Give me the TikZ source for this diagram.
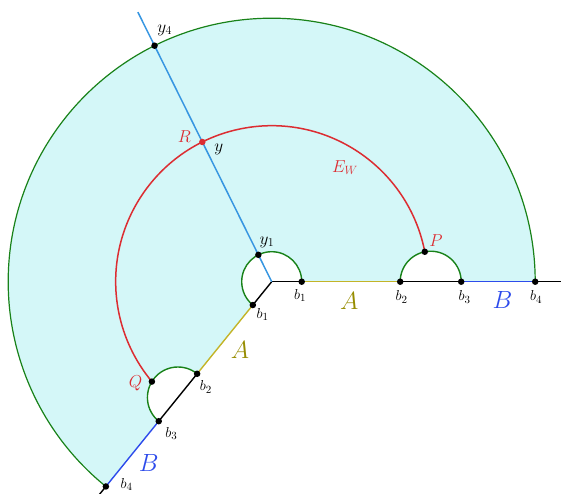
\documentclass[tikz,border=0pt]{standalone}
\usepackage{xcolor}
\definecolor{cyanfill}{RGB}{212,247,248}
\definecolor{grn}{RGB}{25,130,25}
\definecolor{redc}{RGB}{220,45,50}
\definecolor{blueB}{RGB}{45,75,235}
\definecolor{lblue}{RGB}{55,150,225}
\definecolor{yel}{RGB}{195,180,40}
\definecolor{olv}{RGB}{150,140,0}
\begin{document}
\begin{tikzpicture}[x=1pt,y=1pt,line width=1.4pt,
  dot/.style={circle,fill=black,inner sep=0pt,minimum size=6.5pt},
  rdot/.style={circle,fill=redc,inner sep=0pt,minimum size=6.5pt},
  blab/.style={inner sep=0pt,font=\fontsize{15.5}{18}\selectfont},
  mlab/.style={inner sep=0pt,font=\fontsize{18}{21}\selectfont},
  biglab/.style={inner sep=0pt,font=\fontsize{23}{27}\selectfont}]
\useasboundingbox (-271.7,-211.3) rectangle (289.3,281.7);
% points
\coordinate (O) at (0,0);
\coordinate (h1) at (30,0);
\coordinate (h2) at (128.5,0);
\coordinate (h3) at (189.5,0);
\coordinate (h4) at (263.5,0);
\coordinate (hE) at (300,0);
\coordinate (l1) at (231:30);
\coordinate (l2) at (231:118.5);
\coordinate (l3) at (231:179.5);
\coordinate (l4) at (231:263.5);
\coordinate (lE) at (231:300);
\coordinate (y1) at (116.4:30);
\coordinate (yR) at (116.4:156);
\coordinate (y4) at (116.4:263.5);
\coordinate (yE) at (116.4:301);
\coordinate (P) at (11.07:156);
\coordinate (Q) at (219.82:156);
% region
\fill[cyanfill] (h4) arc[start angle=0,end angle=231,radius=263.5pt] -- (l3)
  arc[start angle=231,end angle=51,radius=30.5pt] -- (l1)
  arc[start angle=231,end angle=0,radius=30pt] -- (h2)
  arc[start angle=180,end angle=0,radius=30.5pt] -- cycle;
% rays
\draw[black] (O) -- (h1);
\draw[yel] (h1) -- (h2);
\draw[black] (h2) -- (h3);
\draw[blueB] (h3) -- (h4);
\draw[black] (h4) -- (hE);
\draw[black] (O) -- (l1);
\draw[yel] (l1) -- (l2);
\draw[black] (l2) -- (l3);
\draw[blueB] (l3) -- (l4);
\draw[black] (l4) -- (lE);
% arcs
\draw[grn,line width=1.2pt] (h4) arc[start angle=0,end angle=231,radius=263.5pt];
\draw[grn] (h1) arc[start angle=0,end angle=231,radius=30pt];
\draw[grn] (h2) arc[start angle=180,end angle=0,radius=30.5pt];
\draw[grn] (l2) arc[start angle=51,end angle=231,radius=30.5pt];
\draw[redc,line width=1.5pt] (P) arc[start angle=11.07,end angle=219.82,radius=156pt];
\draw[lblue,line width=1.5pt] (O) -- (yE);
% dots
\node[dot] (dy1) at (y1) {};
\node[dot] (dy4) at (y4) {};
\node[rdot] (dR) at (yR) {};
\node[dot] (dP) at (P) {};
\node[dot] (dQ) at (Q) {};
\node[dot] (dh1) at (h1) {};
\node[dot] (dh2) at (h2) {};
\node[dot] (dh3) at (h3) {};
\node[dot] (dh4) at (h4) {};
\node[dot] (dl1) at (l1) {};
\node[dot] (dl2) at (l2) {};
\node[dot] (dl3) at (l3) {};
\node[dot] (dl4) at (l4) {};
% labels
\node[mlab] (ty4) at (-107,251.7) {$y_4$};
\node[mlab,text=redc] (tR) at (-87.2,145) {$R$};
\node[mlab] (ty) at (-52.9,132.7) {$y$};
\node[mlab,text=redc] (tE) at (73.3,114.2) {$E_W$};
\node[mlab] (ty1) at (-4.7,39.7) {$y_1$};
\node[mlab,text=redc] (tP) at (164.3,40.7) {$P$};
\node[mlab,text=redc] (tQ) at (-136.2,-101.3) {$Q$};
\node[blab] (tb1) at (28.3,-13.6) {$b_1$};
\node[blab] (tb2) at (130,-15.3) {$b_2$};
\node[blab] (tb3) at (193,-15.3) {$b_3$};
\node[blab] (tb4) at (264.5,-15.3) {$b_4$};
\node[blab] (tc1) at (-9.2,-32.8) {$b_1$};
\node[blab] (tc2) at (-65.9,-105.3) {$b_2$};
\node[blab] (tc3) at (-100.4,-151.6) {$b_3$};
\node[blab] (tc4) at (-145,-202.5) {$b_4$};
\node[biglab,text=olv] (tA1) at (77.5,-18.8) {$A$};
\node[biglab,text=olv] (tA2) at (-31.7,-68.3) {$A$};
\node[biglab,text=blueB] (tB1) at (230.8,-18.3) {$B$};
\node[biglab,text=blueB] (tB2) at (-123,-181.6) {$B$};
\end{tikzpicture}
\end{document}
